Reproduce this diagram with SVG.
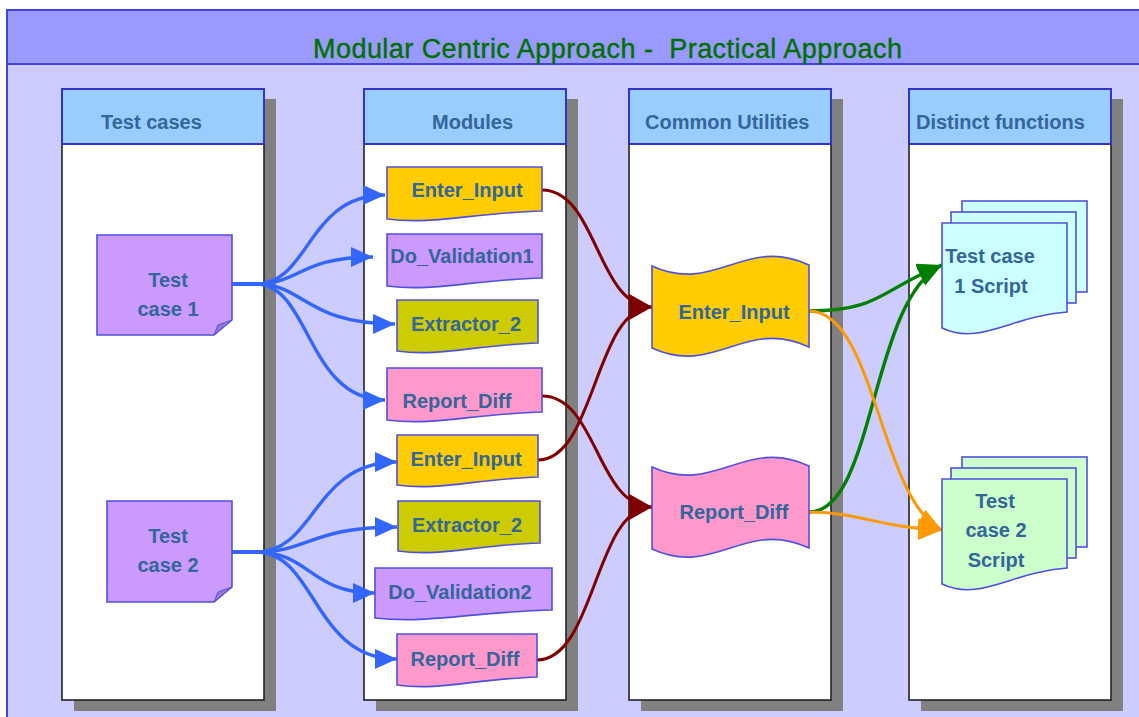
<svg xmlns="http://www.w3.org/2000/svg" width="1139" height="717" viewBox="0 0 1139 717">
<defs>
<style>
.t{font-family:"Liberation Sans",Arial,sans-serif;font-weight:bold;font-size:20px;fill:#336699}
.hd{fill:#99ccff;stroke:#3333cc;stroke-width:2}
.body{fill:#ffffff;stroke:#222222;stroke-width:1.6}
.sh{fill:#808080}
.nd{stroke:#5050e0;stroke-width:1.6}
.c{fill:none}
.blue{stroke:#3366ff;stroke-width:3.4}
.red{stroke:#800000;stroke-width:3}
.grn{stroke:#008000;stroke-width:3.4}
.org{stroke:#ff9900;stroke-width:3}
</style>
<marker id="mb" markerUnits="userSpaceOnUse" markerWidth="26" markerHeight="24" refX="22" refY="10" orient="auto"><path d="M0,0 L22,10 L0,20 Z" fill="#3366ff"/></marker>
<marker id="mr" markerUnits="userSpaceOnUse" markerWidth="26" markerHeight="30" refX="23" refY="13" orient="auto"><path d="M0,0 L23,13 L0,26 Z" fill="#800000"/></marker>
<marker id="mg" markerUnits="userSpaceOnUse" markerWidth="28" markerHeight="26" refX="24" refY="11" orient="auto"><path d="M0,0 L24,11 L0,22 Z" fill="#008000"/></marker>
<marker id="mo" markerUnits="userSpaceOnUse" markerWidth="28" markerHeight="26" refX="24" refY="11" orient="auto"><path d="M0,0 L24,11 L0,22 Z" fill="#ff9900"/></marker>
</defs>

<g id="frame">
<rect x="0" y="0" width="1139" height="717" fill="#ffffff"/>
<rect x="7" y="10" width="1140" height="720" fill="#ccccff" stroke="#4444dd" stroke-width="2"/>
<rect x="7" y="10" width="1140" height="54" fill="#9999ff" stroke="#4444dd" stroke-width="2"/>
<text x="313" y="58" font-family="'Liberation Sans',Arial,sans-serif" font-size="27" fill="#007000" stroke="#007000" stroke-width="0.4" textLength="589" lengthAdjust="spacing" xml:space="preserve">Modular Centric Approach -  Practical Approach</text>
</g>

<g id="lane-test-cases">
<rect class="sh" x="74" y="99" width="202" height="612"/>
<rect class="body" x="62" y="89" width="202" height="611"/>
<rect class="hd" x="62" y="89" width="202" height="55"/>
<text class="t" x="101" y="129">Test cases</text>
</g>
<g id="lane-modules">
<rect class="sh" x="376" y="99" width="202" height="612"/>
<rect class="body" x="364" y="89" width="202" height="611"/>
<rect class="hd" x="364" y="89" width="202" height="55"/>
<text class="t" x="432" y="129">Modules</text>
</g>
<g id="lane-common">
<rect class="sh" x="641" y="99" width="202" height="612"/>
<rect class="body" x="629" y="89" width="202" height="611"/>
<rect class="hd" x="629" y="89" width="202" height="55"/>
<text class="t" x="645" y="129">Common Utilities</text>
</g>
<g id="lane-distinct">
<rect class="sh" x="921" y="99" width="202" height="612"/>
<rect class="body" x="909" y="89" width="202" height="611"/>
<rect class="hd" x="909" y="89" width="202" height="55"/>
<text class="t" x="916" y="129">Distinct functions</text>
</g>

<g id="connectors" class="c">
<path class="blue" d="M232,284 H256 C310,284 307,195 385,195" marker-end="url(#mb)"/>
<path class="blue" d="M232,284 H256 C300,284 300,257 373,257" marker-end="url(#mb)"/>
<path class="blue" d="M232,284 H256 C305,284 305,324 395,324" marker-end="url(#mb)"/>
<path class="blue" d="M232,284 H256 C310,284 307,400 385,400" marker-end="url(#mb)"/>
<path class="blue" d="M232,552 H256 C316,552 313,462 397,462" marker-end="url(#mb)"/>
<path class="blue" d="M232,552 H256 C310,552 310,527 397,527" marker-end="url(#mb)"/>
<path class="blue" d="M232,552 H256 C310,552 310,593 375,593" marker-end="url(#mb)"/>
<path class="blue" d="M232,552 H256 C316,552 313,659 397,659" marker-end="url(#mb)"/>
<path class="red" d="M542,190 C597,190 597,307 652,307" marker-end="url(#mr)"/>
<path class="red" d="M538,460 C595,460 595,307 652,307" marker-end="url(#mr)"/>
<path class="red" d="M542,396 C597,396 597,507 652,507" marker-end="url(#mr)"/>
<path class="red" d="M537,660 C595,660 595,507 652,507" marker-end="url(#mr)"/>
<path class="grn" d="M809,311 C880,311 880,290 942,265" marker-end="url(#mg)"/>
<path class="grn" d="M809,512 C875,512 870,300 942,265" marker-end="url(#mg)"/>
<path class="org" d="M809,311 C875,311 880,500 942,530" marker-end="url(#mo)"/>
<path class="org" d="M809,512 C860,512 880,528 942,530" marker-end="url(#mo)"/>
</g>

<g id="tc1">
<path class="nd" d="M97,235 H232 V320 L214,335 H97 Z" fill="#cc99ff"/>
<path d="M232,320 L214,335 L218,325 Z" fill="#9977cc" stroke="#5050e0" stroke-width="1"/>
<text class="t" x="168" y="287" text-anchor="middle">Test</text>
<text class="t" x="168" y="316" text-anchor="middle">case 1</text>
</g>
<g id="tc2">
<path class="nd" d="M107,501 H232 V587 L214,602 H107 Z" fill="#cc99ff"/>
<path d="M232,587 L214,602 L218,592 Z" fill="#9977cc" stroke="#5050e0" stroke-width="1"/>
<text class="t" x="168" y="543" text-anchor="middle">Test</text>
<text class="t" x="168" y="572" text-anchor="middle">case 2</text>
</g>

<g id="m-enter1">
<path class="nd" d="M387,167 H542 V211 C472,213 434,225 387,219 Z" fill="#ffcc00"/>
<text class="t" x="467" y="197" text-anchor="middle">Enter_Input</text>
</g>
<g id="m-doval1">
<path class="nd" d="M387,234 H542 V278 C472,280 434,292 387,286 Z" fill="#cc99ff"/>
<text class="t" x="462" y="263" text-anchor="middle">Do_Validation1</text>
</g>
<g id="m-extr1">
<path class="nd" d="M397,300 H538 V343 C475,345 439,357 397,351 Z" fill="#cccc00"/>
<text class="t" x="466" y="331" text-anchor="middle">Extractor_2</text>
</g>
<g id="m-rep1">
<path class="nd" d="M387,368 H542 V412 C472,414 434,426 387,420 Z" fill="#ff99cc"/>
<text class="t" x="457" y="408" text-anchor="middle">Report_Diff</text>
</g>
<g id="m-enter2">
<path class="nd" d="M397,435 H538 V477 C475,479 439,491 397,485 Z" fill="#ffcc00"/>
<text class="t" x="466" y="466" text-anchor="middle">Enter_Input</text>
</g>
<g id="m-extr2">
<path class="nd" d="M398,501 H540 V543 C476,545 441,557 398,551 Z" fill="#cccc00"/>
<text class="t" x="467" y="532" text-anchor="middle">Extractor_2</text>
</g>
<g id="m-doval2">
<path class="nd" d="M375,568 H552 V610 C472,612 428,624 375,618 Z" fill="#cc99ff"/>
<text class="t" x="460" y="599" text-anchor="middle">Do_Validation2</text>
</g>
<g id="m-rep2">
<path class="nd" d="M397,634 H537 V677 C474,679 439,691 397,685 Z" fill="#ff99cc"/>
<text class="t" x="465" y="666" text-anchor="middle">Report_Diff</text>
</g>

<g id="cu-enter">
<path class="nd" d="M652,266 C715,295 745,235 809,265 V347 C745,317 715,377 652,348 Z" fill="#ffcc00"/>
<text class="t" x="734" y="319" text-anchor="middle">Enter_Input</text>
</g>
<g id="cu-report">
<path class="nd" d="M652,467 C715,496 745,436 809,466 V548 C745,518 715,578 652,549 Z" fill="#ff99cc"/>
<text class="t" x="734" y="519" text-anchor="middle">Report_Diff</text>
</g>

<g id="ts1">
<rect class="nd" x="962" y="201" width="125" height="91" fill="#ccffff"/>
<rect class="nd" x="951" y="212" width="125" height="91" fill="#ccffff"/>
<path class="nd" d="M942,223 H1067 V312 C1011,316 980,346 942,328 Z" fill="#ccffff"/>
<text class="t" x="990" y="263" text-anchor="middle">Test case</text>
<text class="t" x="991" y="293" text-anchor="middle">1 Script</text>
</g>
<g id="ts2">
<rect class="nd" x="962" y="457" width="125" height="90" fill="#ccffcc"/>
<rect class="nd" x="951" y="468" width="125" height="90" fill="#ccffcc"/>
<path class="nd" d="M942,479 H1067 V568 C1011,572 980,602 942,584 Z" fill="#ccffcc"/>
<text class="t" x="995" y="508" text-anchor="middle">Test</text>
<text class="t" x="996" y="537" text-anchor="middle">case 2</text>
<text class="t" x="996" y="567" text-anchor="middle">Script</text>
</g>
</svg>
